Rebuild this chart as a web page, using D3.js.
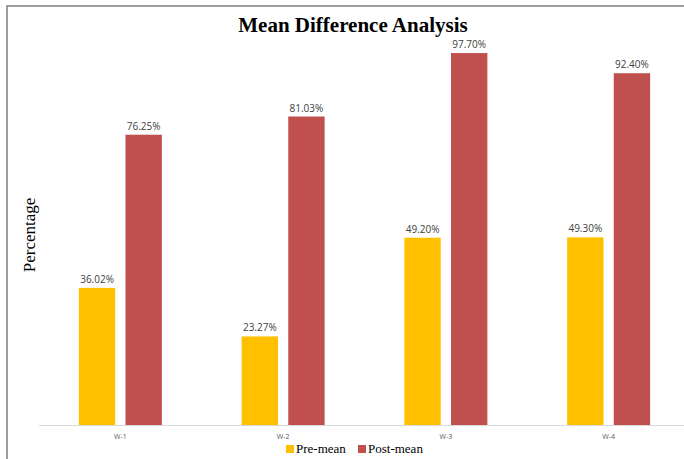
<!DOCTYPE html>
<html>
<head>
<meta charset="utf-8">
<script src="https://cdn.jsdelivr.net/npm/d3@7"></script>
<style>
  body { margin: 0; background: #fff; }
</style>
</head>
<body>
<div id="chart"></div>
<script>
// chart data
var weeks = ["W-1", "W-2", "W-3", "W-4"];
var seriesNames = ["Pre-mean", "Post-mean"];
var preMean = [36.02, 23.27, 49.20, 49.30];
var postMean = [76.25, 81.03, 97.70, 92.40];

var colors = ["#FFC000", "#C0504D"];

var width = 684, height = 459;

var svg = d3.select("#chart")
    .append("svg")
    .attr("width", width)
    .attr("height", height);

svg.append("rect").attr("width", width).attr("height", height).attr("fill", "#fff");

// outer frame (top + left only, the rest is cropped off)
svg.append("path")
    .attr("d", "M7,459 L7,6 L684,6")
    .attr("fill", "none")
    .attr("stroke", "#7f7f7f")
    .attr("stroke-width", 1.5);

var x0 = d3.scaleBand().domain(weeks).range([39, 690]);
var x1 = d3.scaleBand().domain(seriesNames).range([0, 83]).paddingInner(0.22);
var y = d3.scaleLinear().domain([0, 100]).range([425, 44.3]);

var rows = weeks.map(function(w, i) {
  return { week: w, values: [preMean[i], postMean[i]] };
});

var groups = svg.selectAll("g.week")
    .data(rows)
    .enter().append("g")
    .attr("class", "week")
    .attr("transform", function(d) { return "translate(" + (x0(d.week) + x0.bandwidth() / 2 - 41.5) + ",0)"; });

groups.selectAll("rect")
    .data(function(d) { return d.values.map(function(v, j) { return { name: seriesNames[j], v: v, j: j }; }); })
    .enter().append("rect")
    .attr("x", function(d) { return x1(d.name); })
    .attr("y", function(d) { return y(d.v); })
    .attr("width", x1.bandwidth())
    .attr("height", function(d) { return y(0) - y(d.v); })
    .attr("fill", function(d) { return colors[d.j]; });

groups.selectAll("text")
    .data(function(d) { return d.values.map(function(v, j) { return { name: seriesNames[j], v: v }; }); })
    .enter().append("text")
    .attr("x", function(d) { return x1(d.name) + x1.bandwidth() / 2; })
    .attr("y", function(d) { return y(d.v) - 5; })
    .attr("text-anchor", "middle")
    .style("font-family", "'Open Sans', sans-serif")
    .style("font-size", "10px")
    .style("fill", "#404040")
    .text(function(d) { return d.v.toFixed(2) + "%"; });

// x axis
var xAxis = svg.append("g")
    .attr("transform", "translate(0,425)")
    .call(d3.axisBottom(x0).tickSize(0).tickPadding(9));
xAxis.select(".domain").attr("d", "M39,0.5H684").attr("stroke", "#d9d9d9").attr("stroke-width", 1.2);
xAxis.selectAll("text")
    .style("font-family", "'Open Sans', sans-serif")
    .style("font-size", "7px")
    .style("fill", "#595959");

// title
svg.append("text")
    .attr("x", 353)
    .attr("y", 32)
    .attr("text-anchor", "middle")
    .style("font-family", "'Liberation Serif', 'Times New Roman', serif")
    .style("font-weight", "bold")
    .style("font-size", "21px")
    .text("Mean Difference Analysis");

// y axis label
svg.append("text")
    .attr("transform", "translate(35,235) rotate(-90)")
    .attr("text-anchor", "middle")
    .style("font-family", "'Liberation Serif', 'Times New Roman', serif")
    .style("font-size", "17px")
    .text("Percentage");

// legend
var legend = svg.append("g").attr("transform", "translate(286,453)");
var legendX = [0, 72];
seriesNames.forEach(function(name, i) {
  legend.append("rect")
      .attr("x", legendX[i])
      .attr("y", -8)
      .attr("width", 8)
      .attr("height", 8)
      .attr("fill", colors[i]);
  legend.append("text")
      .attr("x", legendX[i] + 10)
      .attr("y", 0)
      .style("font-family", "'Liberation Serif', 'Times New Roman', serif")
      .style("font-size", "13px")
      .text(name);
});
</script>
</body>
</html>
